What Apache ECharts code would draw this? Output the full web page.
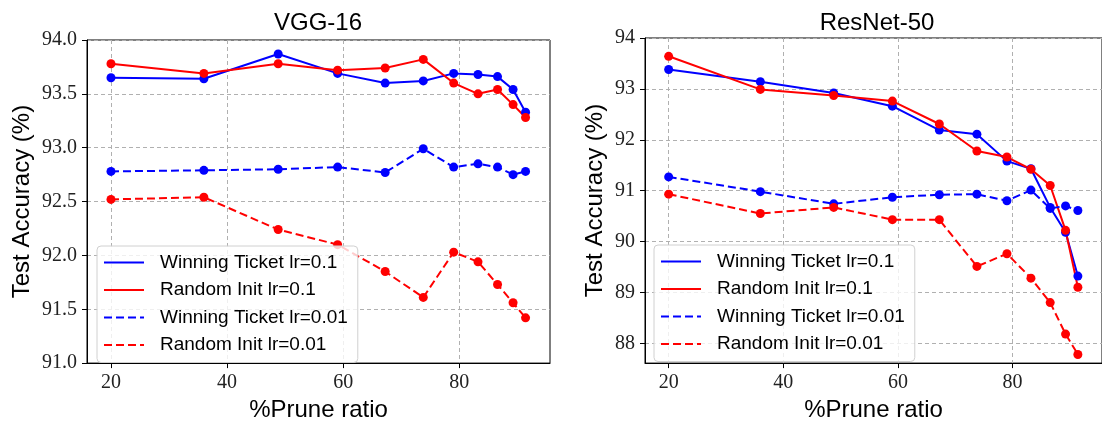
<!DOCTYPE html>
<html>
<head>
<meta charset="utf-8">
<script src="https://cdn.jsdelivr.net/npm/echarts@6/dist/echarts.min.js"></script>
<style>
html,body{margin:0;padding:0;background:#fff;}
#chart{width:1102px;height:427px;}
</style>
</head>
<body>
<div id="chart"></div>
<script>
// Prune ratios (%)
const pruneRatio = [20, 36, 48.8, 59.04, 67.23, 73.79, 79.03, 83.22, 86.58, 89.26, 91.41];
const seriesNames = ['Winning Ticket lr=0.1', 'Random Init lr=0.1', 'Winning Ticket lr=0.01', 'Random Init lr=0.01'];
const xTicks = [20, 40, 60, 80];

// VGG-16
const vggWT01  = [93.65, 93.64, 93.87, 93.69, 93.60, 93.62, 93.69, 93.68, 93.66, 93.54, 93.33];
const vggRI01  = [93.78, 93.69, 93.78, 93.72, 93.74, 93.82, 93.60, 93.50, 93.54, 93.40, 93.28];
const vggWT001 = [92.78, 92.79, 92.80, 92.82, 92.77, 92.99, 92.82, 92.85, 92.82, 92.75, 92.78];
const vggRI001 = [92.52, 92.54, 92.24, 92.10, 91.85, 91.61, 92.03, 91.94, 91.73, 91.56, 91.42];
const vggYTicks = [91.0, 91.5, 92.0, 92.5, 93.0, 93.5, 94.0];

// ResNet-50
const resWT01  = [93.38, 93.14, 92.92, 92.66, 92.19, 92.11, 91.58, 91.43, 90.67, 90.18, 89.32];
const resRI01  = [93.64, 92.99, 92.87, 92.76, 92.31, 91.78, 91.66, 91.42, 91.10, 90.22, 89.10];
const resWT001 = [91.27, 90.98, 90.74, 90.87, 90.92, 90.93, 90.80, 91.01, 90.65, 90.70, 90.61];
const resRI001 = [90.93, 90.55, 90.67, 90.43, 90.43, 89.51, 89.76, 89.28, 88.80, 88.18, 87.78];
const resYTicks = [88, 89, 90, 91, 92, 93, 94];

const BLUE = '#0000ff', RED = '#ff0000';
const SANS = 'Liberation Sans', SERIF = 'Liberation Serif';

function pairs(ys) { return pruneRatio.map((x, i) => [x, ys[i]]); }

function mkSeries(name, ys, color, dashed, gi) {
  return {
    type: 'line', name: name, xAxisIndex: gi, yAxisIndex: gi,
    data: pairs(ys),
    symbol: 'circle', symbolSize: 9, showSymbol: true,
    lineStyle: { color: color, width: 2, type: dashed ? [8, 4] : 'solid' },
    itemStyle: { color: color },
    emphasis: { disabled: true },
    silent: true
  };
}

function xAxisDef(gi) {
  return {
    type: 'value', gridIndex: gi, min: 15.87, max: 95.62,
    name: '%Prune ratio', nameLocation: 'middle', nameGap: 30,
    nameTextStyle: { fontFamily: SANS, fontSize: 24, color: '#000' },
    axisLine: { show: true, onZero: false, lineStyle: { color: '#000', width: 1 } },
    axisTick: { show: true, inside: false, length: 5, customValues: xTicks, lineStyle: { color: '#000' } },
    axisLabel: { customValues: xTicks, margin: 10, fontFamily: SERIF, fontSize: 20, color: '#222' },
    splitLine: { show: true, lineStyle: { color: '#b0b0b0', width: 1, type: [4, 3] } }
  };
}

function yAxisDef(gi, min, max, ticks, fmt, gap) {
  return {
    type: 'value', gridIndex: gi, min: min, max: max,
    name: 'Test Accuracy (%)', nameLocation: 'middle', nameGap: gap,
    nameTextStyle: { fontFamily: SANS, fontSize: 24, color: '#000' },
    axisLine: { show: true, onZero: false, lineStyle: { color: '#000', width: 1 } },
    axisTick: { show: true, inside: false, length: 5, customValues: ticks, lineStyle: { color: '#000' } },
    axisLabel: { customValues: ticks, margin: 10, fontFamily: SERIF, fontSize: 20, color: '#222', formatter: fmt },
    splitLine: { show: true, lineStyle: { color: '#b0b0b0', width: 1, type: [4, 3] } }
  };
}

function legendDef(left, top) {
  return {
    left: left, top: top, orient: 'vertical',
    data: seriesNames,
    itemWidth: 40, itemHeight: 14, itemGap: 8.5,
    padding: [7, 10, 8, 6],
    backgroundColor: 'rgba(255,255,255,0.8)',
    borderColor: '#d0d0d0', borderWidth: 1, borderRadius: 4,
    itemStyle: { color: 'rgba(0,0,0,0)', borderColor: 'rgba(0,0,0,0)', borderWidth: 0 },
    textStyle: { fontFamily: SANS, fontSize: 19, color: '#000', lineHeight: 19, padding: [0, 0, 0, 11] },
    selectedMode: false
  };
}

const chart = echarts.init(document.getElementById('chart'), null, { renderer: 'canvas' });
chart.setOption({
  animation: false,
  backgroundColor: '#fff',
  title: [
    { text: 'VGG-16', left: 318, top: 11, textAlign: 'center', padding: 0,
      textStyle: { fontFamily: SANS, fontSize: 24, fontWeight: 'normal', color: '#000' } },
    { text: 'ResNet-50', left: 877, top: 11, textAlign: 'center', padding: 0,
      textStyle: { fontFamily: SANS, fontSize: 24, fontWeight: 'normal', color: '#000' } }
  ],
  grid: [
    { left: 87, top: 40, width: 463, height: 332, show: true, borderColor: '#000', borderWidth: 1, backgroundColor: 'transparent' },
    { left: 645, top: 38, width: 465.5, height: 333, show: true, borderColor: '#000', borderWidth: 1, backgroundColor: 'transparent' }
  ],
  xAxis: [xAxisDef(0), xAxisDef(1)],
  yAxis: [
    yAxisDef(0, 91, 94, vggYTicks, v => v.toFixed(1), 53),
    yAxisDef(1, 87.61, 94, resYTicks, v => String(Math.round(v)), 38)
  ],
  legend: [legendDef(97, 246), legendDef(654, 245)],
  series: [
    mkSeries(seriesNames[0], vggWT01, BLUE, false, 0),
    mkSeries(seriesNames[1], vggRI01, RED, false, 0),
    mkSeries(seriesNames[2], vggWT001, BLUE, true, 0),
    mkSeries(seriesNames[3], vggRI001, RED, true, 0),
    mkSeries(seriesNames[0], resWT01, BLUE, false, 1),
    mkSeries(seriesNames[1], resRI01, RED, false, 1),
    mkSeries(seriesNames[2], resWT001, BLUE, true, 1),
    mkSeries(seriesNames[3], resRI001, RED, true, 1)
  ]
});
</script>
</body>
</html>
